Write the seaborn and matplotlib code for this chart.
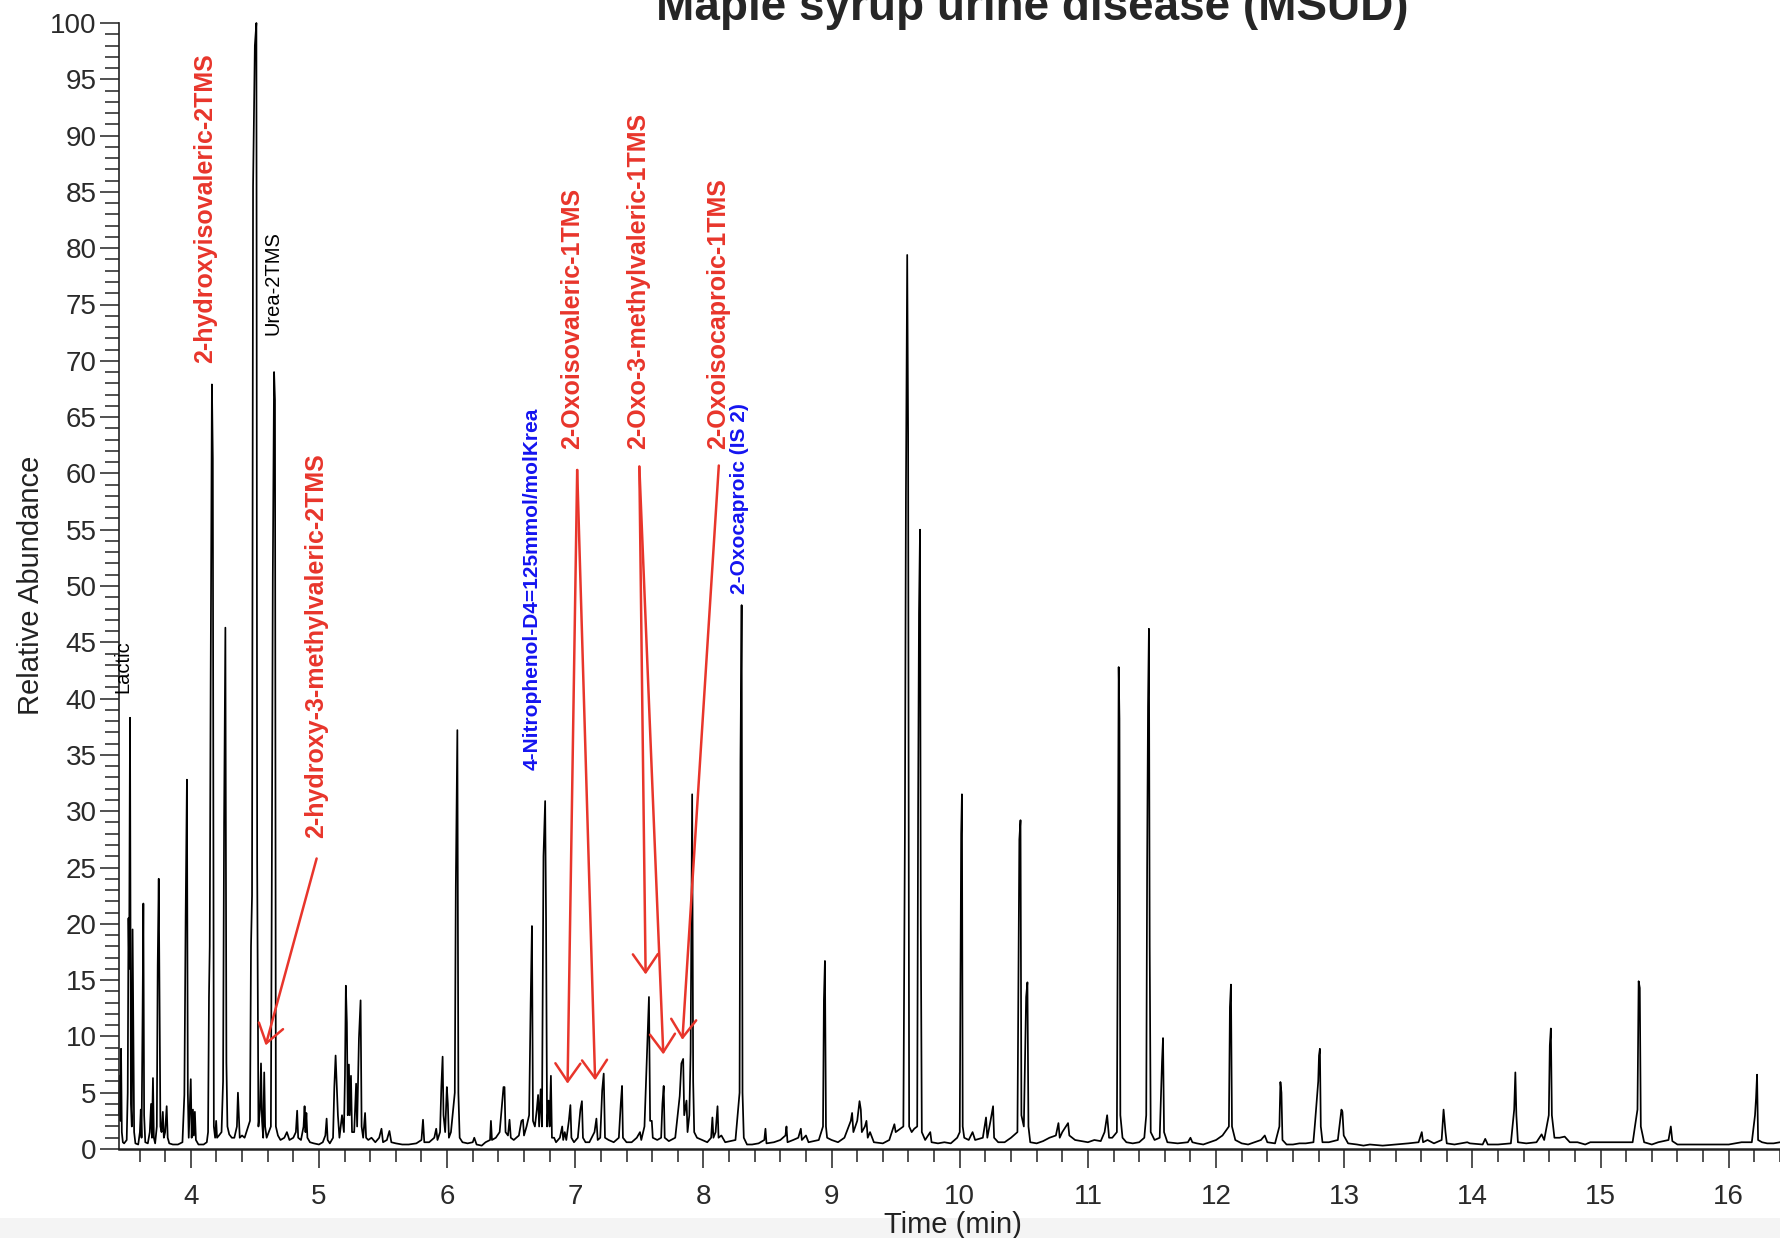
import numpy as np
import pandas as pd
import seaborn as sns
import matplotlib.pyplot as plt
from matplotlib.ticker import MultipleLocator
from matplotlib.patches import Rectangle

# chromatogram trace: retention time (min), relative abundance (%)
rt_min = [
    3.440, 3.446, 3.451, 3.456, 3.462, 3.470, 3.480, 3.500, 3.508, 3.514, 3.519, 3.526, 3.533, 3.540,
    3.546, 3.552, 3.558, 3.568, 3.590, 3.603, 3.610, 3.616, 3.624, 3.630, 3.636, 3.645, 3.665, 3.680,
    3.690, 3.697, 3.705, 3.712, 3.722, 3.735, 3.742, 3.750, 3.756, 3.763, 3.772, 3.782, 3.790, 3.800,
    3.812, 3.820, 3.832, 3.860, 3.900, 3.935, 3.950, 3.960, 3.970, 3.977, 3.984, 3.992, 4.000, 4.007,
    4.017, 4.024, 4.032, 4.040, 4.060, 4.100, 4.125,
    4.135, 4.142, 4.148, 4.155, 4.165, 4.172, 4.180, 4.190, 4.198, 4.205, 4.220, 4.240, 4.252, 4.260,
    4.270, 4.278, 4.286, 4.300, 4.320, 4.340, 4.360, 4.368, 4.375, 4.382, 4.400, 4.420, 4.462, 4.470,
    4.478, 4.486, 4.500, 4.512, 4.518, 4.528, 4.540, 4.548, 4.556, 4.565, 4.573, 4.580, 4.592, 4.625,
    4.632, 4.640, 4.650, 4.657, 4.664, 4.680, 4.700, 4.730, 4.750, 4.770, 4.800, 4.820, 4.830, 4.838,
    4.860, 4.880, 4.888, 4.895, 4.902, 4.910, 4.930, 4.960,
    5.000, 5.030, 5.050, 5.060, 5.068, 5.085, 5.110, 5.120, 5.130, 5.138, 5.148, 5.160, 5.180, 5.195,
    5.203, 5.210, 5.218, 5.225, 5.234, 5.240, 5.250, 5.258, 5.275, 5.290, 5.298, 5.312, 5.325, 5.333,
    5.345, 5.360, 5.368, 5.385, 5.410, 5.440, 5.470, 5.488, 5.500, 5.530, 5.550, 5.565, 5.600, 5.650,
    5.700, 5.760, 5.800, 5.812, 5.822, 5.860, 5.900, 5.915, 5.925, 5.945, 5.955, 5.965, 5.972, 5.985,
    5.998, 6.006, 6.014, 6.030, 6.060, 6.068, 6.080, 6.088, 6.098, 6.120, 6.160, 6.200, 6.212, 6.230,
    6.270, 6.300, 6.335, 6.342, 6.350, 6.380, 6.410, 6.440, 6.448, 6.456, 6.475, 6.487, 6.497, 6.520,
    6.560, 6.580, 6.592, 6.600, 6.620, 6.640, 6.652, 6.662, 6.670, 6.685, 6.700, 6.710, 6.718, 6.730,
    6.740, 6.752, 6.765, 6.772, 6.780, 6.792, 6.800, 6.810, 6.818, 6.835, 6.850, 6.880, 6.898, 6.906,
    6.918, 6.930, 6.950, 6.962, 6.970, 6.990,
    7.020, 7.040, 7.052, 7.060, 7.080, 7.110, 7.150, 7.165, 7.175, 7.195, 7.210, 7.222, 7.232, 7.260,
    7.300, 7.340, 7.355, 7.365, 7.372, 7.400, 7.440, 7.480, 7.505, 7.515, 7.540, 7.560, 7.575, 7.584,
    7.597, 7.605, 7.640, 7.670, 7.680, 7.690, 7.698, 7.730, 7.780, 7.815, 7.828, 7.842, 7.850, 7.868,
    7.876, 7.890, 7.900, 7.912, 7.920, 7.928, 7.950, 7.990,
    8.030, 8.060, 8.070, 8.078, 8.095, 8.110, 8.118, 8.140, 8.170, 8.250, 8.282, 8.289, 8.298, 8.305,
    8.315, 8.340, 8.380, 8.430, 8.475, 8.484, 8.492, 8.550, 8.600, 8.640, 8.648, 8.656, 8.700, 8.740,
    8.760, 8.768, 8.800, 8.820, 8.900, 8.933, 8.940, 8.948, 8.956, 8.965,
    9.000, 9.050, 9.100, 9.150, 9.160, 9.170, 9.200, 9.218, 9.228, 9.236, 9.260, 9.272, 9.282, 9.300,
    9.330, 9.400, 9.450, 9.490, 9.500, 9.560, 9.572, 9.580, 9.590, 9.597, 9.605, 9.625, 9.645, 9.668,
    9.675, 9.682, 9.690, 9.696, 9.704, 9.730, 9.770, 9.780, 9.830, 9.880, 9.930, 9.980, 10.000,
    10.006, 10.011, 10.017, 10.023, 10.035, 10.070, 10.100, 10.120, 10.180, 10.205, 10.215, 10.240,
    10.260, 10.268, 10.300, 10.350, 10.400, 10.450, 10.458, 10.465, 10.474, 10.481, 10.500, 10.518,
    10.528, 10.536, 10.550, 10.600, 10.650, 10.700, 10.750, 10.770, 10.780, 10.800, 10.845, 10.855,
    10.900, 10.950,
    11.000, 11.050, 11.100, 11.130, 11.150, 11.165, 11.190, 11.226, 11.233, 11.240, 11.246, 11.253,
    11.270, 11.300, 11.350, 11.400, 11.440, 11.455, 11.462, 11.469, 11.476, 11.482, 11.490, 11.520,
    11.560, 11.578, 11.586, 11.594, 11.620, 11.700, 11.780, 11.800, 11.815, 11.850, 11.900, 11.950,
    12.000, 12.050, 12.100, 12.108, 12.116, 12.124, 12.150, 12.200, 12.250, 12.300, 12.350, 12.380,
    12.400, 12.460, 12.494, 12.502, 12.510, 12.518, 12.550, 12.600, 12.650, 12.700, 12.760, 12.797,
    12.803, 12.810, 12.817, 12.830, 12.880, 12.950, 12.978, 12.986, 12.996,
    13.030, 13.100, 13.150, 13.200, 13.300, 13.400, 13.500, 13.580, 13.605, 13.615, 13.650, 13.700,
    13.760, 13.775, 13.790, 13.800, 13.860, 13.960, 13.980,
    14.080, 14.100, 14.120, 14.200, 14.300, 14.326, 14.335, 14.343, 14.355, 14.420, 14.500, 14.540,
    14.560, 14.596, 14.604, 14.612, 14.620, 14.640, 14.680, 14.720, 14.760, 14.820, 14.880, 14.920,
    14.970,
    15.250, 15.288, 15.297, 15.306, 15.314, 15.340, 15.400, 15.450, 15.530, 15.548, 15.560, 15.600,
    15.630,
    16.000, 16.050, 16.100, 16.180, 16.205, 16.213, 16.221, 16.229, 16.260, 16.300, 16.350, 16.400,
]
rel_abund = [
    3.0, 6.5, 2.5, 8.9, 1.5, 0.6, 0.5, 0.8, 5.0, 20.5, 16.0, 38.3, 4.0, 2.0,
    19.5, 10.0, 1.5, 0.5, 0.4, 1.5, 3.5, 1.0, 12.0, 21.8, 3.0, 0.6, 0.5, 1.5,
    4.0, 1.0, 6.3, 1.0, 0.5, 2.0, 16.3, 24.0, 13.5, 2.0, 1.5, 3.3, 1.0, 1.5,
    3.8, 1.0, 0.5, 0.4, 0.4, 0.6, 4.8, 20.7, 32.8, 5.0, 1.0, 3.5, 6.2, 1.0,
    3.5, 1.2, 3.3, 0.8, 0.4, 0.4, 0.6,
    1.5, 13.5, 18.0, 41.0, 67.9, 61.3, 2.0, 1.0, 2.5, 1.0, 1.2, 1.5, 6.0, 29.0,
    46.3, 7.7, 2.0, 1.3, 1.0, 1.0, 2.0, 5.0, 3.0, 1.0, 1.2, 1.0, 2.5, 18.0,
    22.5, 85.5, 98.0, 100.0, 25.5, 2.0, 3.5, 7.6, 2.5, 1.0, 6.8, 2.0, 1.0, 2.0,
    23.0, 50.8, 69.0, 66.5, 2.0, 1.2, 0.8, 1.0, 1.5, 0.8, 1.0, 1.5, 3.4, 1.0,
    0.8, 2.0, 3.8, 1.5, 3.2, 1.0, 0.6, 0.5,
    0.4, 0.6, 1.2, 2.7, 0.8, 0.5, 1.0, 5.5, 8.3, 6.0, 3.0, 1.0, 3.0, 1.5,
    6.5, 14.5, 11.2, 3.0, 7.5, 3.0, 6.5, 1.5, 1.5, 5.8, 2.0, 9.8, 13.2, 2.0,
    1.0, 3.2, 1.0, 0.8, 1.0, 0.6, 1.0, 1.8, 0.6, 0.8, 1.6, 0.6, 0.5, 0.4,
    0.4, 0.5, 0.8, 2.6, 0.6, 0.6, 1.0, 1.8, 0.8, 1.5, 5.5, 8.2, 3.0, 1.5,
    5.5, 4.0, 1.0, 1.5, 5.0, 23.3, 37.2, 5.0, 1.0, 0.6, 0.5, 0.6, 1.0, 0.4,
    0.3, 0.6, 0.8, 2.5, 0.8, 1.0, 1.5, 5.5, 5.5, 1.5, 1.2, 2.6, 1.0, 0.8,
    1.2, 2.5, 2.6, 1.2, 2.0, 3.0, 13.0, 19.8, 2.5, 2.0, 3.5, 4.8, 2.0, 5.3,
    2.0, 26.0, 30.9, 20.5, 2.0, 4.3, 2.0, 6.5, 1.0, 1.0, 0.6, 1.0, 2.0, 0.8,
    1.5, 0.8, 2.5, 3.9, 1.0, 0.6,
    1.0, 3.5, 4.25, 1.0, 0.6, 0.6, 1.5, 2.7, 0.8, 1.0, 5.2, 6.7, 1.0, 0.8,
    0.6, 1.0, 4.0, 5.6, 1.0, 0.6, 0.6, 1.0, 1.5, 0.8, 2.0, 8.7, 13.5, 2.5,
    2.5, 1.0, 0.8, 1.0, 4.0, 5.6, 1.0, 0.7, 1.0, 4.7, 7.6, 8.0, 3.0, 4.3,
    1.5, 3.0, 8.6, 31.5, 6.0, 1.5, 1.0, 0.8,
    0.6, 1.0, 2.8, 1.0, 1.5, 3.8, 1.0, 1.2, 0.6, 0.8, 5.0, 34.5, 48.3, 5.0,
    1.0, 0.4, 0.4, 0.5, 0.8, 1.8, 0.5, 0.6, 0.8, 1.2, 2.0, 0.6, 0.8, 1.0,
    1.8, 0.8, 1.2, 0.6, 0.8, 2.0, 13.2, 16.7, 2.0, 1.0,
    0.8, 0.6, 1.0, 2.5, 3.2, 1.5, 2.5, 4.25, 3.5, 1.5, 2.0, 2.5, 1.0, 1.5,
    0.6, 0.5, 0.8, 2.2, 1.5, 2.0, 28.0, 58.0, 79.4, 63.5, 2.0, 1.5, 1.8, 2.0,
    30.0, 47.6, 55.0, 20.0, 1.5, 0.8, 1.5, 0.6, 0.5, 0.6, 0.5, 1.0, 1.5,
    15.0, 28.0, 31.5, 2.0, 1.0, 0.8, 1.5, 0.8, 1.0, 2.8, 1.0, 2.5,
    3.8, 1.0, 0.6, 0.6, 1.0, 1.5, 16.0, 27.5, 29.2, 3.0, 2.0, 13.5,
    14.8, 2.0, 0.6, 0.5, 0.7, 1.0, 1.2, 2.3, 1.0, 1.5, 2.3, 1.2,
    0.8, 0.7,
    0.6, 0.8, 0.7, 1.5, 3.0, 1.0, 1.0, 1.5, 20.0, 42.8, 38.2, 3.0,
    1.0, 0.6, 0.5, 0.6, 1.0, 3.0, 25.0, 39.3, 46.2, 18.0, 1.5, 0.8,
    1.0, 7.7, 9.85, 1.5, 0.6, 0.5, 0.6, 1.0, 0.6, 0.5, 0.4, 0.6,
    0.8, 1.2, 2.0, 12.6, 14.6, 2.0, 0.8, 0.5, 0.4, 0.6, 0.8, 1.2,
    0.6, 0.5, 2.0, 5.95, 5.0, 0.8, 0.4, 0.4, 0.5, 0.5, 0.6, 6.0,
    8.3, 8.9, 2.0, 0.6, 0.6, 0.8, 3.5, 3.3, 1.2,
    0.5, 0.4, 0.3, 0.4, 0.3, 0.4, 0.5, 0.6, 1.5, 0.6, 0.8, 0.5,
    0.8, 3.5, 1.5, 0.5, 0.4, 0.6, 0.5,
    0.4, 0.9, 0.4, 0.4, 0.5, 3.5, 6.8, 3.0, 0.6, 0.5, 0.6, 1.3,
    0.8, 3.0, 9.2, 10.7, 3.0, 1.0, 1.0, 1.1, 0.6, 0.6, 0.4, 0.6,
    0.6,
    0.6, 3.5, 14.9, 14.3, 2.0, 0.6, 0.4, 0.6, 0.8, 2.0, 0.7, 0.4,
    0.4,
    0.4, 0.5, 0.6, 0.6, 3.0, 4.5, 6.6, 0.8, 0.6, 0.5, 0.5, 0.6,
]

# peak labels: text, retention time, lower end of the text (%)
red_labels = ['2-hydroxyisovaleric-2TMS', '2-hydroxy-3-methylvaleric-2TMS', '2-Oxoisovaleric-1TMS',
              '2-Oxo-3-methylvaleric-1TMS', '2-Oxoisocaproic-1TMS']
red_label_rt = [4.11, 4.98, 6.975, 7.49, 8.115]
red_label_base = [69.8, 27.6, 62.2, 62.2, 62.2]
blue_labels = ['4-Nitrophenol-D4=125mmol/molKrea', '2-Oxocaproic (IS 2)']
blue_label_rt = [6.665, 8.28]
blue_label_base = [33.7, 49.3]
black_labels = ['Lactic', 'Urea-2TMS']
black_label_rt = [3.47, 4.638]
black_label_base = [40.5, 72.3]

# arrows: tail (rt, %) -> head (rt, %)
arrow_tail = [(4.982, 25.8), (7.015, 60.3), (7.015, 60.3), (7.50, 60.6), (7.50, 60.6), (8.12, 60.7)]
arrow_head = [(4.584, 9.2), (6.94, 5.8), (7.155, 6.1), (7.549, 15.5), (7.687, 8.4), (7.836, 9.7)]

RED = '#e8352b'
BLUE = '#1414f0'

sns.set_style('ticks')
plt.rcParams['font.family'] = ['Liberation Sans', 'DejaVu Sans']

fig = plt.figure(figsize=(17.8, 12.38), dpi=100)
ax = fig.add_axes([119 / 1780, 89 / 1238, 1661 / 1780, 1126 / 1238])

df = pd.DataFrame({'rt': rt_min, 'abund': rel_abund})
sns.lineplot(data=df, x='rt', y='abund', sort=False, estimator=None,
             color='black', linewidth=1.25, ax=ax)
ax.lines[0].set_clip_on(False)

ax.set_xlim(3.44, 16.40)
ax.set_ylim(0, 100)
ax.xaxis.set_major_locator(MultipleLocator(1))
ax.xaxis.set_minor_locator(MultipleLocator(0.2))
ax.yaxis.set_major_locator(MultipleLocator(5))
ax.yaxis.set_minor_locator(MultipleLocator(1))

sns.despine(ax=ax)
for side in ['left', 'bottom']:
    ax.spines[side].set_color('#222222')
ax.spines['left'].set_linewidth(1.2)
ax.spines['bottom'].set_linewidth(1.8)

ax.tick_params(axis='y', which='major', length=14, width=1.1, color='#222222',
               labelsize=20, labelcolor='#2a2a2a', pad=2)
ax.tick_params(axis='y', which='minor', length=10, width=1.1, color='#222222')
ax.tick_params(axis='x', which='major', length=14, width=1.1, color='#222222',
               labelsize=20, labelcolor='#2a2a2a', pad=11)
ax.tick_params(axis='x', which='minor', length=9, width=1.1, color='#222222')

ax.set_xlabel('Time (min)', fontsize=21, color='#222222')
ax.xaxis.set_label_coords(0.502, -0.055)
ax.set_ylabel('Relative Abundance', fontsize=21, color='#222222')
ax.yaxis.set_label_coords(-0.0448, 0.501)

for txt, x, y in zip(red_labels, red_label_rt, red_label_base):
    ax.text(x, y, txt, rotation=90, ha='center', va='bottom', color=RED,
            fontsize=18, fontweight='bold')
for txt, x, y in zip(blue_labels, blue_label_rt, blue_label_base):
    ax.text(x, y, txt, rotation=90, ha='center', va='bottom', color=BLUE,
            fontsize=15, fontweight='bold')
for txt, x, y in zip(black_labels, black_label_rt, black_label_base):
    ax.text(x, y, txt, rotation=90, ha='center', va='bottom', color='black', fontsize=14.5)

for tail, head in zip(arrow_tail, arrow_head):
    ax.annotate('', xy=head, xytext=tail,
                arrowprops=dict(arrowstyle='->,head_length=0.65,head_width=0.45',
                                color=RED, lw=1.8, mutation_scale=20,
                                shrinkA=0, shrinkB=0))

# title runs off the top edge, as in the source image
fig.text(1032 / 1780, 1 - 20 / 1238, 'Maple syrup urine disease (MSUD)',
         ha='center', va='baseline', fontsize=33, fontweight='bold')

fig.add_artist(Rectangle((0, 0), 1, 20 / 1238, transform=fig.transFigure,
                         facecolor='#f4f4f4', edgecolor='none', zorder=-5))

fig.savefig('out.png', dpi=100)
